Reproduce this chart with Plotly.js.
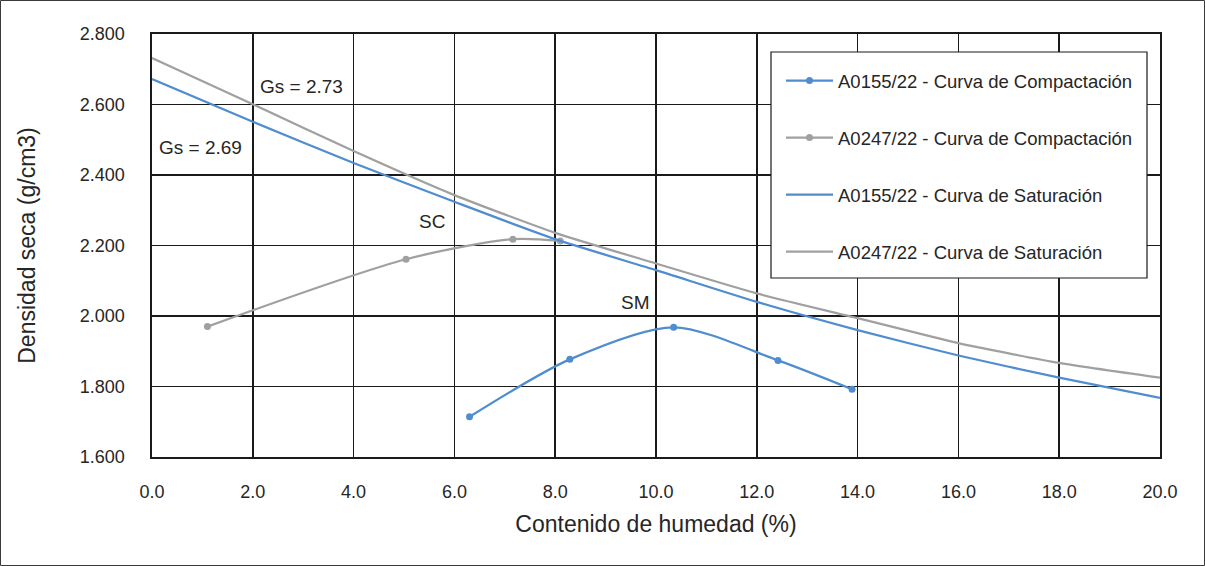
<!DOCTYPE html>
<html>
<head>
<meta charset="utf-8">
<script src="https://cdn.plot.ly/plotly-3.0.1.min.js"></script>
<style>
  html, body { margin: 0; padding: 0; background: #fff; }
  #chart { width: 1205px; height: 566px; }
</style>
</head>
<body>
<div id="chart"></div>
<script>
// Compaction tests: moisture content (%) vs dry density (g/cm3)
const seriesNames = [
  'A0155/22 - Curva de Compactación',
  'A0247/22 - Curva de Compactación',
  'A0155/22 - Curva de Saturación',
  'A0247/22 - Curva de Saturación'
];

const compA0155X = [6.30, 8.29, 10.35, 12.42, 13.89];
const compA0155Y = [1.714, 1.877, 1.968, 1.874, 1.792];

const compA0247X = [1.10, 5.04, 7.16, 8.10];
const compA0247Y = [1.970, 2.161, 2.218, 2.213];

// Zero-air-voids curves
const satX = [0, 2, 4, 6, 8, 10, 12, 14, 16, 18, 20];
const satA0155Y = [2.672, 2.551, 2.434, 2.324, 2.218, 2.130, 2.040, 1.960, 1.888, 1.825, 1.768];
const satA0247Y = [2.732, 2.601, 2.468, 2.343, 2.236, 2.149, 2.064, 1.994, 1.923, 1.867, 1.825];

const xTicks = [0, 2, 4, 6, 8, 10, 12, 14, 16, 18, 20];
const yTicks = [1.6, 1.8, 2.0, 2.2, 2.4, 2.6, 2.8];

const labels = [
  { x: 2.10, y: 2.650, text: 'Gs = 2.73' },
  { x: 0.10, y: 2.477, text: 'Gs = 2.69' },
  { x: 5.26, y: 2.267, text: 'SC' },
  { x: 9.27, y: 2.037, text: 'SM' }
];

const BLUE = '#4f8dcf';
const GRAY = '#a0a0a0';
const FONT = 'Liberation Sans, Arial, sans-serif';
const TXT = '#262626';

const traces = [
  { x: compA0155X, y: compA0155Y, name: seriesNames[0], mode: 'lines+markers',
    line: { color: BLUE, width: 2.25, shape: 'spline', smoothing: 0.8 },
    marker: { color: BLUE, size: 7, symbol: 'circle' }, legendgroup: 'g1' },
  { x: compA0247X, y: compA0247Y, name: seriesNames[1], mode: 'lines+markers',
    line: { color: GRAY, width: 2.25, shape: 'spline', smoothing: 0.8 },
    marker: { color: GRAY, size: 7, symbol: 'circle' }, legendgroup: 'g2' },
  { x: satX, y: satA0155Y, name: seriesNames[2], mode: 'lines',
    line: { color: BLUE, width: 2.25, shape: 'spline', smoothing: 0.6 }, legendgroup: 'g3' },
  { x: satX, y: satA0247Y, name: seriesNames[3], mode: 'lines',
    line: { color: GRAY, width: 2.25, shape: 'spline', smoothing: 0.6 }, legendgroup: 'g4' }
];

const L = 152, R = 45, T = 34, B = 109, W = 1205, H = 566;
const pw = W - L - R, ph = H - T - B;
const px = v => (v - L) / pw;
const py = v => (H - B - v) / ph;

const layout = {
  width: W, height: H,
  margin: { l: L, r: R, t: T, b: B, pad: 0 },
  paper_bgcolor: '#ffffff', plot_bgcolor: '#ffffff',
  font: { family: FONT, color: TXT, size: 18 },
  showlegend: true,
  legend: {
    x: px(781), y: py(62), xanchor: 'left', yanchor: 'top',
    bgcolor: 'rgba(0,0,0,0)', borderwidth: 0,
    traceorder: 'grouped', tracegroupgap: 30, itemwidth: 47,
    font: { family: FONT, size: 18.5, color: TXT }
  },
  xaxis: {
    range: [0, 20], tickvals: xTicks, ticktext: xTicks.map(v => v.toFixed(1)),
    showgrid: true, gridcolor: '#1a1a1a', gridwidth: 1.6,
    zeroline: false, showline: true, linecolor: '#1a1a1a', linewidth: 1.6, mirror: true,
    ticks: '', ticklabelstandoff: 18,
    tickfont: { family: FONT, size: 18, color: TXT },
    title: { text: 'Contenido de humedad (%)', font: { family: FONT, size: 23, color: TXT }, standoff: 14 },
    automargin: false, fixedrange: true
  },
  yaxis: {
    range: [1.6, 2.8], tickvals: yTicks, ticktext: yTicks.map(v => v.toFixed(3)),
    showgrid: true, gridcolor: '#1a1a1a', gridwidth: 1.6,
    zeroline: false, showline: true, linecolor: '#1a1a1a', linewidth: 1.6, mirror: true,
    ticks: '', ticklabelstandoff: 22,
    tickfont: { family: FONT, size: 18, color: TXT },
    title: { text: 'Densidad seca (g/cm3)', font: { family: FONT, size: 23, color: TXT }, standoff: 38 },
    automargin: false, fixedrange: true
  },
  shapes: [
    // white panel behind the legend text
    { type: 'rect', xref: 'paper', yref: 'paper', layer: 'above',
      x0: px(771), x1: px(1147), y0: py(278), y1: py(52),
      line: { width: 0 }, fillcolor: '#ffffff' },
    // legend frame
    { type: 'rect', xref: 'paper', yref: 'paper', layer: 'above',
      x0: px(771), x1: px(1147), y0: py(278), y1: py(52),
      line: { color: '#1a1a1a', width: 1.2 }, fillcolor: 'rgba(0,0,0,0)' },
    // outer frame
    { type: 'rect', xref: 'paper', yref: 'paper', layer: 'above',
      x0: px(0.5), x1: px(W - 0.5), y0: py(H - 0.5), y1: py(0.5),
      line: { color: '#3a3a3a', width: 1 }, fillcolor: 'rgba(0,0,0,0)' }
  ],
  annotations: labels.map(a => ({
    x: a.x, y: a.y, xref: 'x', yref: 'y', text: a.text, showarrow: false,
    xanchor: 'left', yanchor: 'middle',
    font: { family: FONT, size: 19, color: TXT }
  }))
};

Plotly.newPlot('chart', traces, layout, { displayModeBar: false, staticPlot: true });
</script>
</body>
</html>
